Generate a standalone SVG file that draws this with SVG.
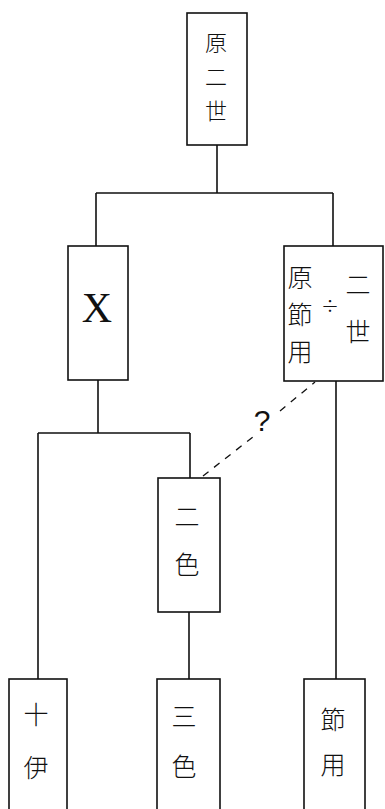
<svg xmlns="http://www.w3.org/2000/svg" width="385" height="809" viewBox="0 0 385 809">
<style>
.box{fill:#fff;stroke:#111;stroke-width:1.6}
.ln{fill:none;stroke:#111;stroke-width:1.6}
.dash{fill:none;stroke:#111;stroke-width:1.3;stroke-dasharray:7 7}
.t{font-family:"Noto Sans CJK JP","Noto Sans CJK SC",sans-serif;font-size:25px;font-weight:300;fill:#111;text-anchor:middle;dominant-baseline:central}
.s{font-size:22px}
.x{font-family:"Liberation Serif",serif;font-size:42px;fill:#111;text-anchor:middle;dominant-baseline:central}
.q{font-family:"Liberation Sans",sans-serif;font-size:30px;fill:#111;text-anchor:middle;dominant-baseline:central}
</style>
<rect width="385" height="809" fill="#fff"/>
<g id="connectors">
<path class="ln" d="M217,145 V193 M96,193 H333 M96,193 V246 M333,193 V246"/>
<path class="ln" d="M98,380 V433 M38,433 H190 M38,433 V679 M190,433 V478"/>
<path class="ln" d="M189,612 V679"/>
<path class="ln" d="M336,381 V679"/>
<path class="dash" d="M203,476 L258,433"/>
<path class="dash" d="M280,411 L315,382"/>
<text class="q" x="262" y="420">?</text>
</g>
<g id="n_top">
<rect class="box" x="187" y="13" width="60" height="132"/>
<text class="t s" x="216" y="41">原</text>
<text class="t s" x="216" y="75">二</text>
<text class="t s" x="216" y="109">世</text>
</g>
<g id="n_x">
<rect class="box" x="68" y="246" width="60" height="134"/>
<text class="x" x="97" y="308">X</text>
</g>
<g id="n_right">
<rect class="box" x="284" y="246" width="99" height="135"/>
<text class="t" x="300" y="276">原</text>
<text class="t" x="300" y="313">節</text>
<text class="t" x="300" y="350">用</text>
<text class="t" x="330" y="305" style="font-size:18px">÷</text>
<text class="t" x="358" y="283">二</text>
<text class="t" x="358" y="330">世</text>
</g>
<g id="n_nishoku">
<rect class="box" x="158" y="478" width="62" height="134"/>
<text class="t" x="187" y="515">二</text>
<text class="t" x="187" y="563">色</text>
</g>
<g id="n_juui">
<rect class="box" x="9" y="679" width="58" height="140"/>
<text class="t" x="36" y="713">十</text>
<text class="t" x="36" y="766">伊</text>
</g>
<g id="n_sanshoku">
<rect class="box" x="157" y="679" width="63" height="140"/>
<text class="t" x="184" y="715">三</text>
<text class="t" x="184" y="765">色</text>
</g>
<g id="n_setsuyo">
<rect class="box" x="304" y="679" width="61" height="140"/>
<text class="t" x="333" y="718">節</text>
<text class="t" x="333" y="763">用</text>
</g>
</svg>
